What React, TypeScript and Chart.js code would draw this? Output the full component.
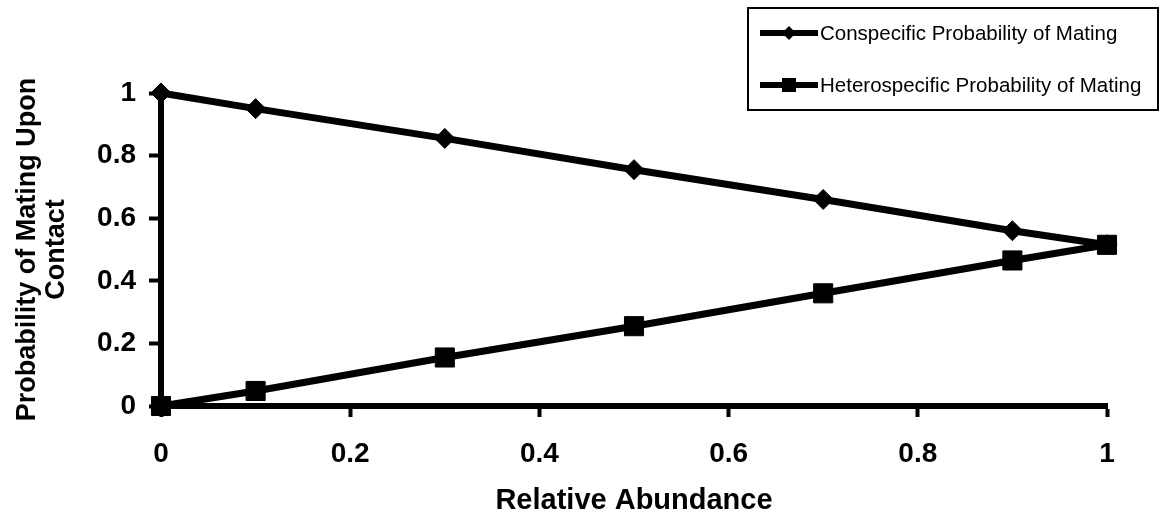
import React, { useEffect, useRef } from 'react';
import { Chart, registerables } from 'chart.js';

Chart.register(...registerables);

const relativeAbundance = [0, 0.1, 0.3, 0.5, 0.7, 0.9, 1];
const conspecific = [1, 0.95, 0.855, 0.755, 0.66, 0.56, 0.515];
const heterospecific = [0, 0.048, 0.155, 0.255, 0.36, 0.465, 0.515];
const seriesLabels = ['Conspecific Probability of Mating', 'Heterospecific Probability of Mating'];
const xTickLabels = ['0', '0.2', '0.4', '0.6', '0.8', '1'];
const yTickLabels = ['0', '0.2', '0.4', '0.6', '0.8', '1'];
const xTitle = 'Relative Abundance';
const yTitle = ['Probability of Mating Upon', 'Contact'];

const FONT = '"Liberation Sans", Arial, Helvetica, sans-serif';

const boxLegend = {
  id: 'boxLegend',
  afterDraw(chart: any) {
    const ctx = chart.ctx;
    ctx.save();
    ctx.strokeStyle = '#000';
    ctx.fillStyle = '#000';
    ctx.lineWidth = 2;
    ctx.strokeRect(748, 8, 410, 102);
    const order = [...chart.data.datasets].sort((a: any, b: any) => a.legendIndex - b.legendIndex);
    order.forEach((ds: any, i: number) => {
      const y = 33 + i * 52;
      ctx.lineWidth = 6;
      ctx.beginPath();
      ctx.moveTo(760, y);
      ctx.lineTo(818, y);
      ctx.stroke();
      ctx.beginPath();
      if (ds.pointStyle === 'rectRot') {
        const r = 7;
        ctx.moveTo(789 - r, y);
        ctx.lineTo(789, y - r);
        ctx.lineTo(789 + r, y);
        ctx.lineTo(789, y + r);
        ctx.closePath();
      } else {
        ctx.rect(789 - 7, y - 7, 14, 14);
      }
      ctx.fill();
      ctx.font = '20.5px ' + FONT;
      ctx.textBaseline = 'middle';
      ctx.textAlign = 'left';
      ctx.fillText(ds.label, 820, y + 1);
    });
    ctx.restore();
  },
};

export default function App() {
  const canvasRef = useRef<HTMLCanvasElement | null>(null);

  useEffect(() => {
    document.body.style.margin = '0';
    const canvas = canvasRef.current;
    if (!canvas) return;
    const chart = new Chart(canvas, {
      type: 'line',
      data: {
        labels: relativeAbundance,
        datasets: [
          {
            label: seriesLabels[0],
            data: relativeAbundance.map((x, i) => ({ x, y: conspecific[i] })),
            borderColor: '#000',
            backgroundColor: '#000',
            borderWidth: 7,
            pointStyle: 'rectRot',
            pointRadius: 10,
            pointBorderWidth: 1,
            pointBackgroundColor: '#000',
            pointBorderColor: '#000',
            clip: false,
            order: 1,
            legendIndex: 0,
          } as any,
          {
            label: seriesLabels[1],
            data: relativeAbundance.map((x, i) => ({ x, y: heterospecific[i] })),
            borderColor: '#000',
            backgroundColor: '#000',
            borderWidth: 7,
            pointStyle: 'rect',
            pointRadius: 13.5,
            pointBorderWidth: 1,
            pointBackgroundColor: '#000',
            pointBorderColor: '#000',
            clip: false,
            order: 0,
            legendIndex: 1,
          } as any,
        ],
      },
      options: {
        animation: false,
        responsive: true,
        maintainAspectRatio: false,
        layout: { padding: { top: 93, right: 56, left: 0, bottom: 0 } },
        plugins: {
          legend: { display: false },
          tooltip: { enabled: false },
        },
        scales: {
          x: {
            type: 'linear',
            min: 0,
            max: 1,
            afterFit: (scale: any) => {
              scale.height = 110;
            },
            ticks: {
              stepSize: 0.2,
              color: '#000',
              padding: 20,
              font: { family: FONT, size: 28, weight: 'bold' },
              callback: (_v: any, i: number) => xTickLabels[i],
            },
            grid: {
              drawOnChartArea: false,
              drawTicks: true,
              tickLength: 11,
              tickWidth: 4,
              tickColor: '#000',
            },
            border: { display: true, color: '#000', width: 6 },
            title: {
              display: true,
              text: xTitle,
              color: '#000',
              font: { family: FONT, size: 29, weight: 'bold', lineHeight: 1 },
              padding: { top: 0, bottom: 1 },
            },
          },
          y: {
            type: 'linear',
            min: 0,
            max: 1,
            afterFit: (scale: any) => {
              scale.width = 161;
            },
            ticks: {
              stepSize: 0.2,
              color: '#000',
              padding: 13,
              font: { family: FONT, size: 28, weight: 'bold' },
              callback: (_v: any, i: number) => yTickLabels[i],
            },
            grid: {
              drawOnChartArea: false,
              drawTicks: true,
              tickLength: 12,
              tickWidth: 4,
              tickColor: '#000',
            },
            border: { display: true, color: '#000', width: 6 },
            title: {
              display: true,
              text: yTitle,
              color: '#000',
              font: { family: FONT, size: 27, weight: 'bold', lineHeight: 1.04 },
              padding: { top: 14, bottom: 0 },
            },
          },
        },
      } as any,
      plugins: [boxLegend],
    });
    return () => chart.destroy();
  }, []);

  return (
    <div style={{ position: 'relative', width: '1163px', height: '516px', background: '#fff' }}>
      <canvas ref={canvasRef} />
    </div>
  );
}
